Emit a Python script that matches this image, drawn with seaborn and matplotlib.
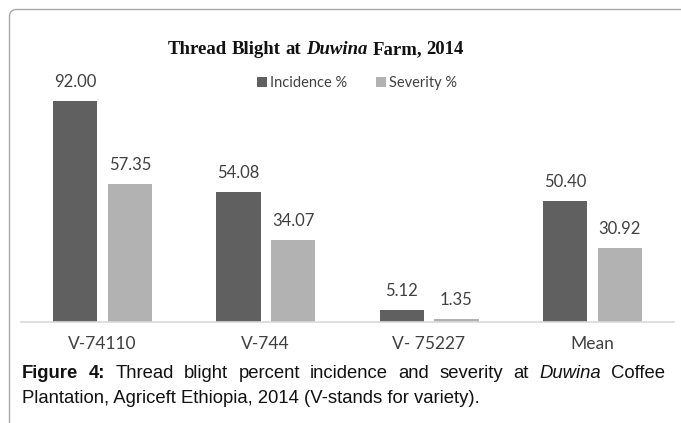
import matplotlib
matplotlib.use("Agg")
import matplotlib.pyplot as plt
import matplotlib.transforms as mtransforms
from matplotlib.patches import FancyBboxPatch, Patch
import seaborn as sns
import pandas as pd

# ---- data ----
categories = ["V-74110", "V-744", "V- 75227", "Mean"]
incidence = [92.00, 54.08, 5.12, 50.40]
severity = [57.35, 34.07, 1.35, 30.92]
series_names = ["Incidence %", "Severity %"]
colors = ["#606060", "#b2b2b2"]
title_words = [("Thread", "normal"), ("Blight", "normal"), ("at", "normal"),
               ("Duwina", "italic"), ("Farm,", "normal"), ("2014", "normal")]
caption_line1 = [("Figure", "bold", "normal"), ("4:", "bold", "normal"),
                 ("Thread", "normal", "normal"), ("blight", "normal", "normal"),
                 ("percent", "normal", "normal"), ("incidence", "normal", "normal"),
                 ("and", "normal", "normal"), ("severity", "normal", "normal"),
                 ("at", "normal", "normal"), ("Duwina", "normal", "italic"),
                 ("Coffee", "normal", "normal")]
caption_line2 = "Plantation, Agriceft Ethiopia, 2014 (V-stands for variety)."

W, H = 681, 423
sns.set_theme(style="white")
plt.rcParams["font.family"] = ["Lato", "DejaVu Sans"]

fig = plt.figure(figsize=(W / 100, H / 100), dpi=100)
fig.patch.set_facecolor("white")

ax_left, ax_right, ax_base, ax_top = 20.8, 674.0, 322.0, 81.5
ax = fig.add_axes([ax_left / W, 1 - ax_base / H, (ax_right - ax_left) / W, (ax_base - ax_top) / H])

df = pd.DataFrame({
    "Variety": categories * 2,
    "Value": incidence + severity,
    "Series": [series_names[0]] * len(categories) + [series_names[1]] * len(categories),
})
sns.barplot(data=df, x="Variety", y="Value", hue="Series", palette=colors,
            width=0.67, gap=0.19, saturation=1, ax=ax, legend=False,
            edgecolor="none", linewidth=0)

for cont in ax.containers:
    ax.bar_label(cont, fmt="%.2f", padding=8, fontsize=12, color="#404040")

ax.set_ylim(0, 100)
ax.set_xlim(-0.5, 3.5)
ax.set_yticks([])
ax.set_xlabel("")
ax.set_ylabel("")
for s in ["left", "top", "right"]:
    ax.spines[s].set_visible(False)
ax.spines["bottom"].set_color("#d9d9d9")
ax.spines["bottom"].set_linewidth(1.2)
ax.tick_params(axis="x", length=0, pad=10, labelsize=12.5, labelcolor="#404040")
ax.set_facecolor("none")

# legend
handles = [Patch(facecolor=c, edgecolor="none", label=n) for c, n in zip(colors, series_names)]
fig.legend(handles=handles, loc="center", bbox_to_anchor=(357 / W, 1 - 83 / H), ncol=2,
           frameon=False, handlelength=0.7, handleheight=0.7, handletextpad=0.2,
           columnspacing=2.0, prop={"size": 10.5}, labelcolor="#404040")

# border with rounded corner
border = FancyBboxPatch((9.5, -60), 1200, H - 9.5 + 60,
                        boxstyle="round,pad=0,rounding_size=7",
                        transform=mtransforms.IdentityTransform(),
                        fill=False, edgecolor="#a8a8a8", linewidth=1.0)
fig.patches.append(border)

fig.canvas.draw()
renderer = fig.canvas.get_renderer()


def text_width(s, **kw):
    t = fig.text(0, 0, s, **kw)
    w = t.get_window_extent(renderer).width
    t.remove()
    return w


# title
tfont = dict(family=["Liberation Serif"], weight="bold", size=13.5, color="#111111")
space_t = text_width("x x", **tfont) - text_width("xx", **tfont)
widths = [text_width(w, style=st, **tfont) for w, st in title_words]
total = sum(widths) + space_t * (len(title_words) - 1)
x = 316 - total / 2
for (w, st), wd in zip(title_words, widths):
    fig.text(x / W, 1 - 54 / H, w, style=st, va="baseline", ha="left", **tfont)
    x += wd + space_t

# caption
cfont = dict(family=["Liberation Sans"], size=13.3, color="#111111")
cap_left, cap_right = 22, 665
cw = [text_width(w, weight=wt, style=st, **cfont) for w, wt, st in caption_line1]
gap = (cap_right - cap_left - sum(cw)) / (len(caption_line1) - 1)
x = cap_left
for (w, wt, st), wd in zip(caption_line1, cw):
    fig.text(x / W, 1 - 378 / H, w, weight=wt, style=st, va="baseline", ha="left", **cfont)
    x += wd + gap
fig.text(cap_left / W, 1 - 403 / H, caption_line2, va="baseline", ha="left", **cfont)

fig.savefig("out.png", dpi=100, facecolor="white")
